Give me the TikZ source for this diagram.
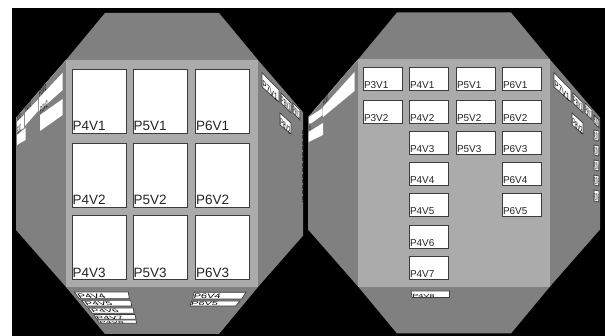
\documentclass[tikz,border=0pt]{standalone}
\usepackage{fontspec}
\setmainfont{Liberation Sans}
\definecolor{wallgray}{HTML}{808080}
\definecolor{frontgray}{HTML}{ABABAB}
\definecolor{cardedge}{HTML}{3C3C3C}
\definecolor{cardtext}{HTML}{242424}

% card on a slanted wall: name, four corners, node options, text
\newcommand{\sidecard}[7]{
    \draw[sideedge] #2 -- #3 -- #4 -- #5 -- cycle;
    \node[sidetext,#6] (#1) at #5 {#7};
}
\newcommand{\leftcard}[7]{
    \fill[white] #2 -- #3 -- #4 -- #5 -- cycle;
    \node[sidetext,#6] (#1) at #5 {#7};
}

\begin{document}
\begin{tikzpicture}[x=1pt,y=-1pt]
        \tikzset{sideedge/.style={draw=cardedge, fill=white, line width=0.7pt}}
        \tikzset{sidetext/.style={anchor=south west, inner sep=0.4pt, text=black, font=\fontsize{10}{10}\selectfont}}
        \tikzset{bigcard/.style={draw=cardedge, fill=white, line width=0.8pt, anchor=north west, inner sep=0pt, outer sep=0pt, minimum width=54pt, minimum height=64pt}}
        \tikzset{smallcard/.style={draw=cardedge, fill=white, line width=0.8pt, anchor=north west, inner sep=0pt, outer sep=0pt, minimum width=39.5pt, minimum height=23pt}}
        \tikzset{biglabel/.style={anchor=south west, inner sep=0pt, xshift=0.5pt, yshift=2pt, text=cardtext, font=\fontsize{13.5}{13.5}\selectfont}}
        \tikzset{smalllabel/.style={anchor=south west, inner sep=0pt, xshift=0.5pt, yshift=1.5pt, text=cardtext, font=\fontsize{10}{10}\selectfont}}
        \useasboundingbox (0,0) rectangle (605,336);

        \fill[white] (0,0) rectangle (605,336);
        \fill[black] (12,8) rectangle (605,336);

        % left room
        \begin{scope}
            \clip (12,8) rectangle (303,336);
            \fill[wallgray] (105,13) -- (219,13) -- (258,60) -- (308,118) -- (308,230) -- (258,287) -- (219,334) -- (105,334) -- (66,287) -- (16,230) -- (16,118) -- (66,60) -- cycle;
            \fill[frontgray] (66,60) rectangle (258,287);
            \draw[frontgray] (66,60) -- (16,118);
            % right wall, same as the other room
            \begin{scope}[xshift=-292pt]
                \sidecard{lp7v1}{(554,72.7)}{(571,90)}{(571,102)}{(554,87)}{yslant=-1,xscale=0.62}{P7V1}
                \sidecard{lp8v1}{(573,93)}{(583,103)}{(583,113)}{(573,103)}{yslant=-1,xscale=0.38}{P8V1}
                \sidecard{lp9v1}{(585,103)}{(592,110)}{(592,120)}{(585,113)}{yslant=-1,xscale=0.27}{P9V1}
                \sidecard{lp8v2}{(572,113)}{(583,123)}{(583,134)}{(572,125)}{yslant=-1,xscale=0.42}{P8V2}
                \draw[cardedge, line width=0.8pt, dash pattern=on 4pt off 1.5pt] (594,130) -- (594,202);
            \end{scope}
        \end{scope}

        % left room, slanted left wall
        \leftcard{lp3v1}{(62.7,72.7)}{(62.7,90)}{(39,111)}{(39,98)}{yslant=1.05,xscale=0.3}{P3V1}
        \leftcard{lp3v2}{(62.7,99)}{(62.7,115)}{(40,131)}{(40,115)}{yslant=1,xscale=0.3}{P3V2}
        \leftcard{lp2v1}{(38,99.5)}{(38,111)}{(25,126)}{(25,113)}{yslant=1,xscale=0.25}{P2V1}
        \leftcard{lp1v1}{(24,115)}{(24,128)}{(17,132)}{(17,122)}{yslant=1,xscale=0.16}{P1V1}
        \leftcard{lp1v2}{(25.5,128)}{(25.5,140)}{(17,145)}{(17,135)}{yslant=1,xscale=0.16}{P1V2}

        % left room, front wall
        \node[bigcard, label={[biglabel]south west:P4V1}] (p4v1) at (72,69) {};
        \node[bigcard, label={[biglabel]south west:P5V1}] (p5v1) at (133,69) {};
        \node[bigcard, label={[biglabel]south west:P6V1}] (p6v1) at (195.5,69) {};
        \node[bigcard, label={[biglabel]south west:P4V2}] (p4v2) at (72,143) {};
        \node[bigcard, label={[biglabel]south west:P5V2}] (p5v2) at (133,143) {};
        \node[bigcard, label={[biglabel]south west:P6V2}] (p6v2) at (195.5,143) {};
        \node[bigcard, label={[biglabel]south west:P4V3}] (p4v3) at (72,215.5) {};
        \node[bigcard, label={[biglabel]south west:P5V3}] (p5v3) at (133,215.5) {};
        \node[bigcard, label={[biglabel]south west:P6V3}] (p6v3) at (195.5,215.5) {};

        % left room, floor
        \sidecard{lp4v4}{(74.3,292)}{(128.3,292)}{(129.3,298.7)}{(79.3,298.7)}{xslant=-0.7,yscale=0.6}{\fontsize{11}{11}\selectfont P4V4}
        \sidecard{lp4v5}{(81.7,300.3)}{(130.7,300.3)}{(131.7,306)}{(86,306)}{xslant=-0.7,yscale=0.5}{\fontsize{11}{11}\selectfont P4V5}
        \sidecard{lp4v6}{(88.3,308)}{(133.3,308)}{(134,313.3)}{(92.3,313.3)}{xslant=-0.7,yscale=0.45}{\fontsize{11}{11}\selectfont P4V6}
        \sidecard{lp4v7}{(94,314.5)}{(135,314.5)}{(136,319.3)}{(96.7,319.3)}{xslant=-0.6,yscale=0.42}{\fontsize{11}{11}\selectfont P4V7}
        \sidecard{lp4v8}{(97.3,320)}{(136,320)}{(136.7,323.3)}{(99.3,323.3)}{xslant=-0.5,yscale=0.3}{\fontsize{10}{10}\selectfont P4V8}
        \sidecard{lp6v4}{(194,292.3)}{(246,292.3)}{(241.7,299)}{(192.7,299)}{xslant=0.2,yscale=0.6}{\fontsize{11}{11}\selectfont P6V4}
        \sidecard{lp6v5}{(191.7,301)}{(240,301)}{(235.7,306)}{(190,306)}{xslant=0.3,yscale=0.5}{\fontsize{11}{11}\selectfont P6V5}

        % right room
        \begin{scope}[xshift=292pt, yshift=0.5pt]
            \fill[wallgray] (105,13) -- (219,13) -- (258,60) -- (308,118) -- (308,230) -- (258,287) -- (219,334) -- (105,334) -- (66,287) -- (16,230) -- (16,118) -- (66,60) -- cycle;
            \fill[frontgray] (66,60) rectangle (258,287.5);
            \draw[frontgray] (66,60) -- (16,118);
        \end{scope}

        % right room, slanted left wall
        \leftcard{rp2v1}{(354.5,72)}{(354.5,91)}{(323,117)}{(323,107)}{yslant=1.05,xscale=0.22}{P2V1}
        \leftcard{rp1v1}{(322.7,108)}{(322.7,115)}{(309,125)}{(309,117)}{yslant=0.8,xscale=0.1}{P1V1}
        \leftcard{rp1v2}{(323,123)}{(323,135)}{(308.5,142)}{(308.5,132)}{yslant=0.7,xscale=0.1}{P1V2}

        % right room, front wall
        \node[smallcard, label={[smalllabel]south west:P3V1}] (p3v1r) at (363.3,67.7) {};
        \node[smallcard, label={[smalllabel]south west:P4V1}] (p4v1r) at (409.3,67.7) {};
        \node[smallcard, label={[smalllabel]south west:P5V1}] (p5v1r) at (456.3,67.7) {};
        \node[smallcard, label={[smalllabel]south west:P6V1}] (p6v1r) at (502.3,67.7) {};
        \node[smallcard, label={[smalllabel]south west:P3V2}] (p3v2r) at (363.3,100) {};
        \node[smallcard, label={[smalllabel]south west:P4V2}] (p4v2r) at (409.3,100) {};
        \node[smallcard, label={[smalllabel]south west:P5V2}] (p5v2r) at (456.3,100) {};
        \node[smallcard, label={[smalllabel]south west:P6V2}] (p6v2r) at (502.3,100) {};
        \node[smallcard, label={[smalllabel]south west:P4V3}] (p4v3r) at (409.3,131) {};
        \node[smallcard, label={[smalllabel]south west:P5V3}] (p5v3r) at (456.3,131) {};
        \node[smallcard, label={[smalllabel]south west:P6V3}] (p6v3r) at (502.3,131) {};
        \node[smallcard, label={[smalllabel]south west:P4V4}] (p4v4r) at (409.3,162) {};
        \node[smallcard, label={[smalllabel]south west:P6V4}] (p6v4r) at (502.3,162) {};
        \node[smallcard, label={[smalllabel]south west:P4V5}] (p4v5r) at (409.3,193.3) {};
        \node[smallcard, label={[smalllabel]south west:P6V5}] (p6v5r) at (502.3,193.3) {};
        \node[smallcard, label={[smalllabel]south west:P4V6}] (p4v6r) at (409.3,225) {};
        \node[smallcard, label={[smalllabel]south west:P4V7}] (p4v7r) at (409.3,256) {};

        % right room, floor
        \sidecard{rp4v8}{(411,291)}{(449.5,291)}{(449.5,297.6)}{(412,297.6)}{xslant=-0.1,yscale=0.5}{\fontsize{9}{9}\selectfont P4V8}

        % right room, slanted right wall
        \sidecard{rp7v1}{(554,72.7)}{(571,90)}{(571,102)}{(554,87)}{yslant=-1,xscale=0.62}{P7V1}
        \sidecard{rp8v1}{(573,93)}{(583,103)}{(583,113)}{(573,103)}{yslant=-1,xscale=0.38}{P8V1}
        \sidecard{rp9v1}{(585,103)}{(592,110)}{(592,120)}{(585,113)}{yslant=-1,xscale=0.27}{P9V1}
        \sidecard{rp10v1}{(594,115)}{(599,120)}{(599,128)}{(594,123)}{yslant=-1,xscale=0.16}{P10V1}
        \sidecard{rp8v2}{(572,113)}{(583,123)}{(583,134)}{(572,125)}{yslant=-1,xscale=0.42}{P8V2}
        \sidecard{rp10v2}{(594,130)}{(599,131)}{(599,141)}{(594,140)}{yslant=-0.2,xscale=0.16}{P10V2}
        \sidecard{rp10v3}{(594,145)}{(599,146)}{(599,156)}{(594,155)}{yslant=-0.2,xscale=0.16}{P10V3}
        \sidecard{rp10v4}{(594,160)}{(599,161)}{(599,171)}{(594,170)}{yslant=-0.2,xscale=0.16}{P10V4}
        \sidecard{rp10v5}{(594,175)}{(599,176)}{(599,186)}{(594,185)}{yslant=-0.2,xscale=0.16}{P10V5}
        \sidecard{rp10v6}{(594,190)}{(599,191)}{(599,202)}{(594,201)}{yslant=-0.2,xscale=0.16}{P10V6}
\end{tikzpicture}
\end{document}
